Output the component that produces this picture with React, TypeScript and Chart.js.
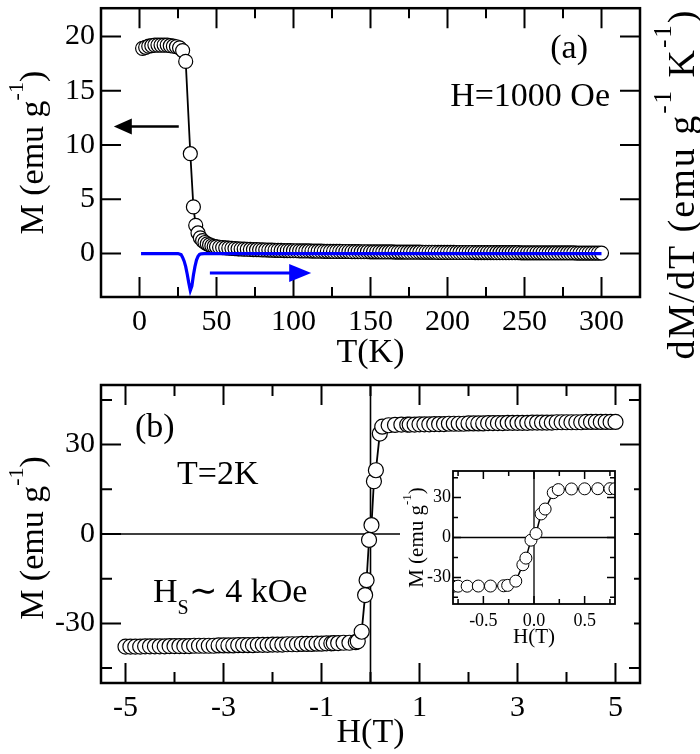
import React, { useEffect, useRef } from "react";
import { Chart, registerables } from "chart.js";

Chart.register(...registerables);

const SERIF = "'Liberation Serif', 'Times New Roman', Times, serif";

// ---------------- Panel (a): M(T), H = 1000 Oe ----------------
const temperatureK = [
  2, 4, 6, 8, 10, 12, 14, 16, 18, 20, 22, 24, 26, 28, 30, 33, 35, 36.5, 38, 39.5, 41, 42.5, 44, 45.5, 47, 48.5,
  50, 52, 54, 56, 58, 60, 62, 64, 66, 68, 70, 72, 74, 76, 78, 80, 82, 84, 86, 88, 90, 92, 94, 96, 98,
  100, 102, 104, 106, 108, 110, 112, 114, 116, 118, 120, 122, 124, 126, 128, 130, 132, 134, 136, 138, 140, 142, 144, 146, 148,
  150, 152, 154, 156, 158, 160, 162, 164, 166, 168, 170, 172, 174, 176, 178, 180, 182, 184, 186, 188, 190, 192, 194, 196, 198,
  200, 202, 204, 206, 208, 210, 212, 214, 216, 218, 220, 222, 224, 226, 228, 230, 232, 234, 236, 238, 240, 242, 244, 246, 248,
  250, 252, 254, 256, 258, 260, 262, 264, 266, 268, 270, 272, 274, 276, 278, 280, 282, 284, 286, 288, 290, 292, 294, 296, 298, 300,
];
const magnetizationT = [
  18.9, 19.0, 19.1, 19.15, 19.2, 19.2, 19.2, 19.2, 19.2, 19.15, 19.1, 19.05, 18.95, 18.7, 17.7, 9.2, 4.3, 2.6, 1.9, 1.45, 1.2, 1.02, 0.9, 0.8, 0.72, 0.66,
  0.62, 0.58, 0.55, 0.52, 0.5, 0.48, 0.46, 0.44, 0.42, 0.41, 0.4, 0.38, 0.37, 0.36, 0.35, 0.34, 0.33, 0.32, 0.31, 0.3, 0.3, 0.29, 0.28, 0.28, 0.27,
  0.26, 0.26, 0.25, 0.25, 0.24, 0.24, 0.23, 0.23, 0.22, 0.22, 0.21, 0.21, 0.21, 0.2, 0.2, 0.2, 0.19, 0.19, 0.19, 0.18, 0.18, 0.18, 0.17, 0.17, 0.17,
  0.16, 0.16, 0.16, 0.16, 0.15, 0.15, 0.15, 0.15, 0.14, 0.14, 0.14, 0.14, 0.13, 0.13, 0.13, 0.13, 0.13, 0.12, 0.12, 0.12, 0.12, 0.12, 0.11, 0.11, 0.11,
  0.11, 0.11, 0.11, 0.1, 0.1, 0.1, 0.1, 0.1, 0.1, 0.09, 0.09, 0.09, 0.09, 0.09, 0.09, 0.09, 0.08, 0.08, 0.08, 0.08, 0.08, 0.08, 0.08, 0.08, 0.07,
  0.07, 0.07, 0.07, 0.07, 0.07, 0.07, 0.07, 0.06, 0.06, 0.06, 0.06, 0.06, 0.06, 0.06, 0.06, 0.06, 0.06, 0.05, 0.05, 0.05, 0.05, 0.05, 0.05, 0.05, 0.05, 0.05,
];
const derivTemperatureK = [1, 10, 20, 25, 27, 28, 29, 30, 31, 32, 33, 34, 35, 36, 37, 38, 39, 40, 42, 45, 60, 100, 200, 300];
const dMdT = [0, 0, 0, 0, -0.1, -0.35, -0.7, -1.2, -1.9, -2.7, -3.4, -3.0, -2.0, -1.2, -0.6, -0.25, -0.08, -0.02, 0, 0, 0, 0, 0, 0];
const tempTicks = [0, 50, 100, 150, 200, 250, 300];
const tempMinorTicks = [25, 75, 125, 175, 225, 275];
const mTicksA = [0, 5, 10, 15, 20];

// ---------------- Panel (b): M(H), T = 2 K ----------------
const fieldT = [
  -5.0, -4.9, -4.8, -4.7, -4.6, -4.5, -4.4, -4.3, -4.2, -4.1, -4.0, -3.9, -3.8, -3.7, -3.6, -3.5, -3.4, -3.3, -3.2, -3.1, -3.0,
  -2.9, -2.8, -2.7, -2.6, -2.5, -2.4, -2.3, -2.2, -2.1, -2.0, -1.9, -1.8, -1.7, -1.6, -1.5, -1.4, -1.3, -1.2, -1.1, -1.0, -0.9, -0.8,
  -0.75, -0.66, -0.55, -0.43, -0.3, -0.26, -0.18, -0.11, -0.08, -0.03, 0.02, 0.07, 0.11, 0.19, 0.24, 0.37, 0.5, 0.63, 0.75,
  0.8, 0.9, 1.0, 1.1, 1.2, 1.3, 1.4, 1.5, 1.6, 1.7, 1.8, 1.9, 2.0, 2.1, 2.2, 2.3, 2.4, 2.5, 2.6, 2.7, 2.8, 2.9,
  3.0, 3.1, 3.2, 3.3, 3.4, 3.5, 3.6, 3.7, 3.8, 3.9, 4.0, 4.1, 4.2, 4.3, 4.4, 4.5, 4.6, 4.7, 4.8, 4.9, 5.0,
];
const magnetizationH = [
  -37.8, -37.8, -37.8, -37.8, -37.7, -37.7, -37.7, -37.7, -37.7, -37.6, -37.6, -37.6, -37.6, -37.6, -37.5, -37.5, -37.5, -37.5, -37.5, -37.4, -37.4,
  -37.4, -37.4, -37.3, -37.3, -37.3, -37.3, -37.2, -37.2, -37.2, -37.1, -37.1, -37.1, -37.0, -37.0, -37.0, -36.9, -36.9, -36.9, -36.8, -36.8, -36.7, -36.7,
  -36.6, -36.6, -36.5, -36.5, -36.3, -36.0, -32.8, -20.5, -15.5, -2.0, 3.0, 17.7, 21.4, 33.7, 36.0, 36.5, 36.6, 36.7, 36.7,
  36.7, 36.7, 36.8, 36.8, 36.8, 36.9, 36.9, 36.9, 37.0, 37.0, 37.0, 37.0, 37.1, 37.1, 37.1, 37.1, 37.2, 37.2, 37.2, 37.2, 37.3, 37.3,
  37.3, 37.3, 37.3, 37.4, 37.4, 37.4, 37.4, 37.4, 37.5, 37.5, 37.5, 37.5, 37.5, 37.5, 37.6, 37.6, 37.6, 37.6, 37.6, 37.6, 37.6,
];
const fieldTicks = [-5, -3, -1, 1, 3, 5];
const fieldMinorTicks = [-4, -2, 0, 2, 4];
const mTicksB = [-30, 0, 30];
const mMinorTicksB = [-45, -15, 15, 45];
const insetFieldTicks = [-0.5, 0, 0.5];
const insetFieldMinorTicks = [-0.75, -0.25, 0.25, 0.75];
const insetMTicks = [-30, 0, 30];
const insetMMinorTicks = [-45, -15, 15, 45];

// ---------------- helpers ----------------
type Run = { t: string; size: number; dy?: number };

function drawRuns(
  ctx: CanvasRenderingContext2D,
  runs: Run[],
  x: number,
  y: number,
  align: "left" | "center" | "right",
  rotate = 0,
  spacing = 0
) {
  ctx.save();
  ctx.translate(x, y);
  ctx.rotate(rotate);
  ctx.textAlign = "left";
  ctx.textBaseline = "alphabetic";
  ctx.fillStyle = "#000";
  (ctx as any).letterSpacing = `${spacing}px`;
  let total = 0;
  for (const r of runs) {
    ctx.font = `${r.size}px ${SERIF}`;
    total += ctx.measureText(r.t).width;
  }
  let cx = align === "left" ? 0 : align === "center" ? -total / 2 : -total;
  for (const r of runs) {
    ctx.font = `${r.size}px ${SERIF}`;
    ctx.fillText(r.t, cx, r.dy || 0);
    cx += ctx.measureText(r.t).width;
  }
  ctx.restore();
}

function drawArrow(
  ctx: CanvasRenderingContext2D,
  x1: number,
  y: number,
  x2: number,
  color: string,
  lw: number,
  headLen: number,
  headHalf: number
) {
  const dir = x2 > x1 ? 1 : -1;
  ctx.save();
  ctx.strokeStyle = color;
  ctx.fillStyle = color;
  ctx.lineWidth = lw;
  ctx.beginPath();
  ctx.moveTo(x1, y);
  ctx.lineTo(x2 - dir * headLen * 0.8, y);
  ctx.stroke();
  ctx.beginPath();
  ctx.moveTo(x2, y);
  ctx.lineTo(x2 - dir * headLen, y - headHalf);
  ctx.lineTo(x2 - dir * headLen, y + headHalf);
  ctx.closePath();
  ctx.fill();
  ctx.restore();
}

interface FrameCfg {
  xMajor: number[];
  xMinor: number[];
  yMajor: number[];
  yMinor: number[];
  majorLen: number;
  minorLen: number;
  tickWidth: number;
  borderWidth: number;
  zeroLines?: boolean;
  zeroWidth?: number;
  decorate?: (chart: any, ctx: CanvasRenderingContext2D) => void;
}

function makeFrame(cfg: FrameCfg) {
  return {
    id: "frameTicks",
    beforeDatasetsDraw(chart: any) {
      if (!cfg.zeroLines) return;
      const { ctx, chartArea: a } = chart;
      const xs = chart.scales.x;
      const ys = chart.scales.y;
      ctx.save();
      ctx.strokeStyle = "#000";
      ctx.lineWidth = cfg.zeroWidth || 1.5;
      const px = xs.getPixelForValue(0);
      const py = ys.getPixelForValue(0);
      ctx.beginPath();
      ctx.moveTo(px, a.top);
      ctx.lineTo(px, a.bottom);
      ctx.moveTo(a.left, py);
      ctx.lineTo(a.right, py);
      ctx.stroke();
      ctx.restore();
    },
    afterDraw(chart: any) {
      const { ctx, chartArea: a } = chart;
      const xs = chart.scales.x;
      const ys = chart.scales.y;
      ctx.save();
      ctx.strokeStyle = "#000";
      ctx.lineWidth = cfg.tickWidth;
      ctx.lineCap = "butt";
      ctx.beginPath();
      const xt = (v: number, len: number) => {
        const p = xs.getPixelForValue(v);
        ctx.moveTo(p, a.bottom);
        ctx.lineTo(p, a.bottom - len);
        ctx.moveTo(p, a.top);
        ctx.lineTo(p, a.top + len);
      };
      const yt = (v: number, len: number) => {
        const p = ys.getPixelForValue(v);
        ctx.moveTo(a.left, p);
        ctx.lineTo(a.left + len, p);
        ctx.moveTo(a.right, p);
        ctx.lineTo(a.right - len, p);
      };
      cfg.xMajor.forEach((v) => xt(v, cfg.majorLen));
      cfg.xMinor.forEach((v) => xt(v, cfg.minorLen));
      cfg.yMajor.forEach((v) => yt(v, cfg.majorLen));
      cfg.yMinor.forEach((v) => yt(v, cfg.minorLen));
      ctx.stroke();
      ctx.lineWidth = cfg.borderWidth;
      ctx.strokeRect(a.left, a.top, a.right - a.left, a.bottom - a.top);
      ctx.restore();
      if (cfg.decorate) cfg.decorate(chart, ctx);
    },
  };
}

function fixedX(height: number, ticks: number[]) {
  return {
    afterBuildTicks: (s: any) => {
      s.ticks = ticks.map((v) => ({ value: v }));
    },
    afterFit: (s: any) => {
      s.height = height;
      s.paddingLeft = 0;
      s.paddingRight = 0;
    },
  };
}
function fixedY(width: number, ticks: number[]) {
  return {
    afterBuildTicks: (s: any) => {
      s.ticks = ticks.map((v) => ({ value: v }));
    },
    afterFit: (s: any) => {
      s.width = width;
      s.paddingTop = 0;
      s.paddingBottom = 0;
    },
  };
}

const noGrid = { display: false, drawTicks: false };
const noBorder = { display: false };

export default function App() {
  const refA = useRef<HTMLCanvasElement>(null);
  const refB = useRef<HTMLCanvasElement>(null);
  const refI = useRef<HTMLCanvasElement>(null);

  useEffect(() => {
    const tickFont = { family: SERIF, size: 30 };

    // ---------- Panel (a) ----------
    const chartA = new Chart(refA.current!, {
      type: "scatter",
      data: {
        datasets: [
          {
            label: "dM/dT",
            data: derivTemperatureK.map((t, i) => ({ x: t, y: dMdT[i] })),
            yAxisID: "y2",
            showLine: true,
            borderColor: "#0000ff",
            borderWidth: 3.2,
            pointRadius: 0,
            order: 0,
          } as any,
          {
            label: "M",
            data: temperatureK.map((t, i) => ({ x: t, y: magnetizationT[i] })),
            yAxisID: "y",
            showLine: true,
            borderColor: "#000",
            borderWidth: 1.8,
            pointRadius: 7,
            pointBackgroundColor: "#fff",
            pointBorderColor: "#000",
            pointBorderWidth: 1.2,
            order: 1,
          } as any,
        ],
      },
      options: {
        animation: false,
        responsive: false,
        devicePixelRatio: 1,
        events: [],
        layout: { padding: { top: 7, left: 0, right: 0, bottom: 0 } },
        plugins: { legend: { display: false }, tooltip: { enabled: false } },
        scales: {
          x: {
            type: "linear",
            position: "bottom",
            min: -25,
            max: 325,
            grid: noGrid,
            border: noBorder,
            ticks: { font: tickFont, color: "#000", padding: 7, maxRotation: 0, autoSkip: false, callback: (v: any) => String(v) },
            ...fixedX(73, tempTicks),
          } as any,
          y: {
            type: "linear",
            position: "left",
            min: -4,
            max: 22.6,
            grid: noGrid,
            border: noBorder,
            ticks: { font: tickFont, color: "#000", padding: 6, autoSkip: false, callback: (v: any) => String(v) },
            ...fixedY(101, mTicksA),
          } as any,
          y2: {
            type: "linear",
            position: "right",
            min: -4,
            max: 22.6,
            grid: noGrid,
            border: noBorder,
            ticks: { display: false },
            ...fixedY(60, mTicksA),
          } as any,
        },
      },
      plugins: [
        makeFrame({
          xMajor: tempTicks,
          xMinor: tempMinorTicks,
          yMajor: mTicksA,
          yMinor: [],
          majorLen: 20,
          minorLen: 10,
          tickWidth: 2,
          borderWidth: 2.5,
          decorate: (chart, ctx) => {
            const xs = chart.scales.x;
            const ys = chart.scales.y;
            const a = chart.chartArea;
            drawArrow(ctx, xs.getPixelForValue(25.5), ys.getPixelForValue(11.7), xs.getPixelForValue(-16.7), "#000", 2.5, 18, 8);
            drawArrow(ctx, xs.getPixelForValue(45.7), ys.getPixelForValue(-1.8), xs.getPixelForValue(111.5), "#0000ff", 3, 22, 9);
            drawRuns(ctx, [{ t: "(a)", size: 34 }], 588, 58, "right");
            drawRuns(ctx, [{ t: "H=1000 Oe", size: 34 }], 610, 106, "right");
            drawRuns(ctx, [{ t: "T(K)", size: 34 }], (a.left + a.right) / 2, 362, "center");
            drawRuns(
              ctx,
              [
                { t: "M (emu g", size: 34 },
                { t: "-1", size: 22, dy: -20 },
                { t: ")", size: 34 },
              ],
              43,
              (a.top + a.bottom) / 2,
              "center",
              -Math.PI / 2
            );
            drawRuns(
              ctx,
              [
                { t: "dM/dT (emu g", size: 38 },
                { t: "-1", size: 25, dy: -23 },
                { t: " K", size: 38 },
                { t: "-1", size: 25, dy: -23 },
                { t: ")", size: 38 },
              ],
              694,
              184,
              "center",
              -Math.PI / 2,
              2
            );
          },
        }),
      ],
    });

    // ---------- Panel (b) ----------
    const chartB = new Chart(refB.current!, {
      type: "scatter",
      data: {
        datasets: [
          {
            label: "M(H)",
            data: fieldT.map((h, i) => ({ x: h, y: magnetizationH[i] })),
            showLine: true,
            borderColor: "#000",
            borderWidth: 1.8,
            pointRadius: 7.5,
            pointBackgroundColor: "#fff",
            pointBorderColor: "#000",
            pointBorderWidth: 1.2,
          } as any,
        ],
      },
      options: {
        animation: false,
        responsive: false,
        devicePixelRatio: 1,
        events: [],
        layout: { padding: { top: 15, left: 0, right: 60, bottom: 0 } },
        plugins: { legend: { display: false }, tooltip: { enabled: false } },
        scales: {
          x: {
            type: "linear",
            min: -5.5,
            max: 5.5,
            grid: noGrid,
            border: noBorder,
            ticks: { font: tickFont, color: "#000", padding: 7, maxRotation: 0, autoSkip: false, callback: (v: any) => String(v) },
            ...fixedX(71, fieldTicks),
          } as any,
          y: {
            type: "linear",
            min: -50,
            max: 50,
            grid: noGrid,
            border: noBorder,
            ticks: { font: tickFont, color: "#000", padding: 6, autoSkip: false, callback: (v: any) => String(v) },
            ...fixedY(101, mTicksB),
          } as any,
        },
      },
      plugins: [
        makeFrame({
          xMajor: fieldTicks,
          xMinor: fieldMinorTicks,
          yMajor: mTicksB,
          yMinor: mMinorTicksB,
          majorLen: 20,
          minorLen: 11,
          tickWidth: 2,
          borderWidth: 2.5,
          zeroLines: true,
          zeroWidth: 1.6,
          decorate: (chart, ctx) => {
            const a = chart.chartArea;
            drawRuns(ctx, [{ t: "(b)", size: 34 }], 135, 67, "left");
            drawRuns(ctx, [{ t: "T=2K", size: 34 }], 177, 114, "left");
            drawRuns(
              ctx,
              [
                { t: "H", size: 34 },
                { t: "S", size: 20, dy: 12 },
                { t: "\u223C 4 kOe", size: 34 },
              ],
              153,
              232,
              "left"
            );
            drawRuns(ctx, [{ t: "H(T)", size: 34 }], (a.left + a.right) / 2, 372, "center");
            drawRuns(
              ctx,
              [
                { t: "M (emu g", size: 34 },
                { t: "-1", size: 22, dy: -20 },
                { t: ")", size: 34 },
              ],
              43,
              (a.top + a.bottom) / 2 + 4,
              "center",
              -Math.PI / 2
            );
          },
        }),
      ],
    });

    // ---------- Inset ----------
    const insetFont = { family: SERIF, size: 18 };
    const chartI = new Chart(refI.current!, {
      type: "scatter",
      data: {
        datasets: [
          {
            label: "M(H) inset",
            data: fieldT.map((h, i) => ({ x: h, y: magnetizationH[i] })),
            showLine: true,
            borderColor: "#000",
            borderWidth: 1.5,
            pointRadius: 6,
            pointBackgroundColor: "#fff",
            pointBorderColor: "#000",
            pointBorderWidth: 1,
          } as any,
        ],
      },
      options: {
        animation: false,
        responsive: false,
        devicePixelRatio: 1,
        events: [],
        layout: { padding: { top: 16, left: 0, right: 19, bottom: 0 } },
        plugins: { legend: { display: false }, tooltip: { enabled: false } },
        scales: {
          x: {
            type: "linear",
            min: -0.8,
            max: 0.8,
            grid: noGrid,
            border: noBorder,
            ticks: { font: insetFont, color: "#000", padding: 6, maxRotation: 0, autoSkip: false, callback: (v: any) => Number(v).toFixed(1) },
            ...fixedX(48, insetFieldTicks),
          } as any,
          y: {
            type: "linear",
            min: -50,
            max: 50,
            grid: noGrid,
            border: noBorder,
            ticks: { font: insetFont, color: "#000", padding: 2, autoSkip: false, callback: (v: any) => String(v) },
            ...fixedY(53, insetMTicks),
          } as any,
        },
      },
      plugins: [
        makeFrame({
          xMajor: insetFieldTicks,
          xMinor: insetFieldMinorTicks,
          yMajor: insetMTicks,
          yMinor: insetMMinorTicks,
          majorLen: 8,
          minorLen: 5,
          tickWidth: 1.5,
          borderWidth: 1.8,
          zeroLines: true,
          zeroWidth: 1.3,
          decorate: (chart, ctx) => {
            const a = chart.chartArea;
            drawRuns(ctx, [{ t: "H(T)", size: 21 }], (a.left + a.right) / 2, 188, "center");
            drawRuns(
              ctx,
              [
                { t: "M (emu g", size: 21 },
                { t: "-1", size: 13, dy: -12 },
                { t: ")", size: 21 },
              ],
              23,
              (a.top + a.bottom) / 2,
              "center",
              -Math.PI / 2
            );
          },
        }),
      ],
    });

    return () => {
      chartA.destroy();
      chartB.destroy();
      chartI.destroy();
    };
  }, []);

  return (
    <div style={{ position: "absolute", left: 0, top: 0, width: 700, height: 754, background: "#fff" }}>
      <canvas ref={refA} width={700} height={370} style={{ position: "absolute", left: 0, top: 0, display: "block" }} />
      <canvas ref={refB} width={700} height={384} style={{ position: "absolute", left: 0, top: 370, display: "block" }} />
      <canvas
        ref={refI}
        width={234}
        height={197}
        style={{ position: "absolute", left: 400, top: 455, display: "block", background: "#fff" }}
      />
    </div>
  );
}
